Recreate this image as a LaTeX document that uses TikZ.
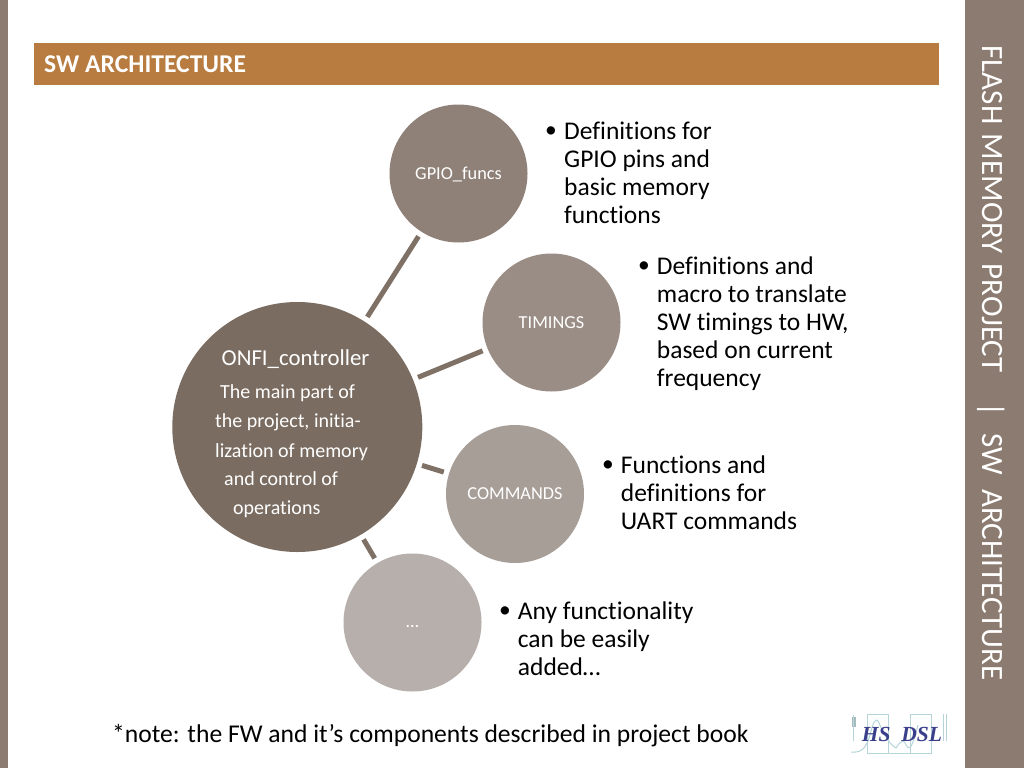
\documentclass[tikz,border=0pt]{standalone}
\usepackage{fontspec}
\setmainfont{Carlito}[Ligatures=NoCommon]
\newfontfamily\logofont{Liberation Serif}
\definecolor{sidebar}{HTML}{8C7B70}
\definecolor{banner}{HTML}{B87C40}
\definecolor{cmain}{HTML}{7A6C61}
\definecolor{cgpio}{HTML}{8F8178}
\definecolor{ctim}{HTML}{9A8D85}
\definecolor{ccmd}{HTML}{A89E98}
\definecolor{cdots}{HTML}{B7AFAB}
\definecolor{link}{HTML}{7F7166}
\definecolor{logoblue}{HTML}{3A3F8C}
\definecolor{logoline}{HTML}{B5D5D8}
\tikzset{
  x=1pt,y=-1pt,
  hub/.style={circle,fill=#1,inner sep=0pt,minimum size=138pt},
  ring/.style={circle,outer sep=5.5pt,inner sep=0pt,minimum size=138pt},
  spoke/.style={draw=link,line width=5pt},
  small/.style={text=white,font=\fontsize{18.3}{18.3}\selectfont,inner sep=0pt},
  maintxt/.style={text=white,font=\fontsize{20}{20}\selectfont,inner sep=0pt,anchor=base west},
  bullet/.style={text=black,font=\fontsize{25.5}{28}\selectfont,inner sep=0pt,anchor=north west,align=left},
  dot/.style={text=black,font=\fontsize{23.5}{28}\selectfont,inner sep=0pt,anchor=base west},
}
\begin{document}
\begin{tikzpicture}
\useasboundingbox (0,0) rectangle (1024,768);
\fill[white] (0,0) rectangle (1024,768);
\fill[sidebar] (0,0) rectangle (8,768);
\fill[sidebar] (965,0) rectangle (1024,768);
\fill[banner] (34,43) rectangle (939,85);
\node[text=white,inner sep=0pt,anchor=base west,font=\fontsize{25.6}{25.6}\selectfont\bfseries] (title) at (44,72) {SW ARCHITECTURE};
\node[text=white,inner sep=0pt,rotate=-90,anchor=base west,font=\fontsize{31}{31}\selectfont] (side) at (982,45.5) {FLASH\hspace{9.5pt}MEMORY\hspace{9.5pt}PROJECT\hspace{29.7pt}|\hspace{17pt}SW\hspace{14pt}ARCHITECTURE};

% hubs
\node[hub=cmain,minimum size=250pt] (mainfill) at (297.3,427) {};
\node[hub=cgpio] (gpiofill) at (458.5,173.5) {};
\node[hub=ctim] (timfill) at (551.5,322.5) {};
\node[hub=ccmd] (cmdfill) at (515,494) {};
\node[hub=cdots] (dotsfill) at (412.5,622.5) {};
% outlines used for the connectors
\node[ring,minimum size=250pt] (main) at (297.3,427) {};
\node[ring] (gpio) at (458.5,173.5) {};
\node[ring] (tim) at (551.5,322.5) {};
\node[ring] (cmd) at (515,494) {};
\node[ring] (more) at (412.5,622.5) {};
\draw[spoke] (main) -- (gpio);
\draw[spoke] (main) -- (tim);
\draw[spoke] (main) -- (cmd);
\draw[spoke] (main) -- (more);

\node[small] (l1) at (458.5,174) {GPIO\_funcs};
\node[small] (l2) at (551.5,323) {TIMINGS};
\node[small] (l3) at (515,494) {COMMANDS};
\node[small] (l4) at (412.5,627) {…};

\node[maintxt,font=\fontsize{22.8}{22.8}\selectfont] (m0) at (221.5,365) {ONFI\_controller};
\node[maintxt] (m1) at (220,398) {The main part of};
\node[maintxt] (m2) at (215,427.5) {the project, initia-};
\node[maintxt] (m3) at (215,457) {lization of memory};
\node[maintxt] (m4) at (224,485.5) {and control of};
\node[maintxt] (m5) at (233,514) {operations};

\node[dot] (d1) at (545,137.5) {•};
\node[bullet] (t1) at (564,121.5) {Definitions for\\GPIO pins and\\basic memory\\functions};
\node[dot] (d2) at (638,272) {•};
\node[bullet] (t2) at (656.7,257) {Definitions and\\macro to translate\\SW timings to HW,\\based on current\\frequency};
\node[dot] (d3) at (602,471.5) {•};
\node[bullet] (t3) at (620.7,455.5) {Functions and\\definitions for\\UART commands};
\node[dot] (d4) at (499,617) {•};
\node[bullet] (t4) at (517.7,601.7) {Any functionality\\can be easily\\added…};

\node[inner sep=0pt,anchor=base west,font=\fontsize{25.6}{25.6}\selectfont] (note) at (112,742) {*note: the FW and it’s components described in project book};

% logo
\begin{scope}[logoline,line width=0.8pt]
\fill[logoline!70!gray] (852,717) rectangle (856,727);
\draw (853,715) -- (853,741);
\draw (867,714) rectangle (888,753);
\draw (888,753) -- (910,753);
\draw (910,714) rectangle (931,753);
\draw (943,714) -- (943,741);
\draw (946,714) -- (946,741);
\draw[line width=1pt] (851,752) .. controls (862,753) and (866,748) .. (870,735) .. controls (873,722) and (876,716) .. (879,723) .. controls (884,735) and (890,745) .. (896,748) .. controls (900,742) and (903,738) .. (906,745) .. controls (910,752) and (913,745) .. (918,725);
\end{scope}
\node[text=logoblue,inner sep=0pt,anchor=base,font=\logofont\bfseries\itshape\fontsize{21.5}{21.5}\selectfont] (logo) at (902,741) {HS\hspace{0.5em}DSL};
\end{tikzpicture}
\end{document}
